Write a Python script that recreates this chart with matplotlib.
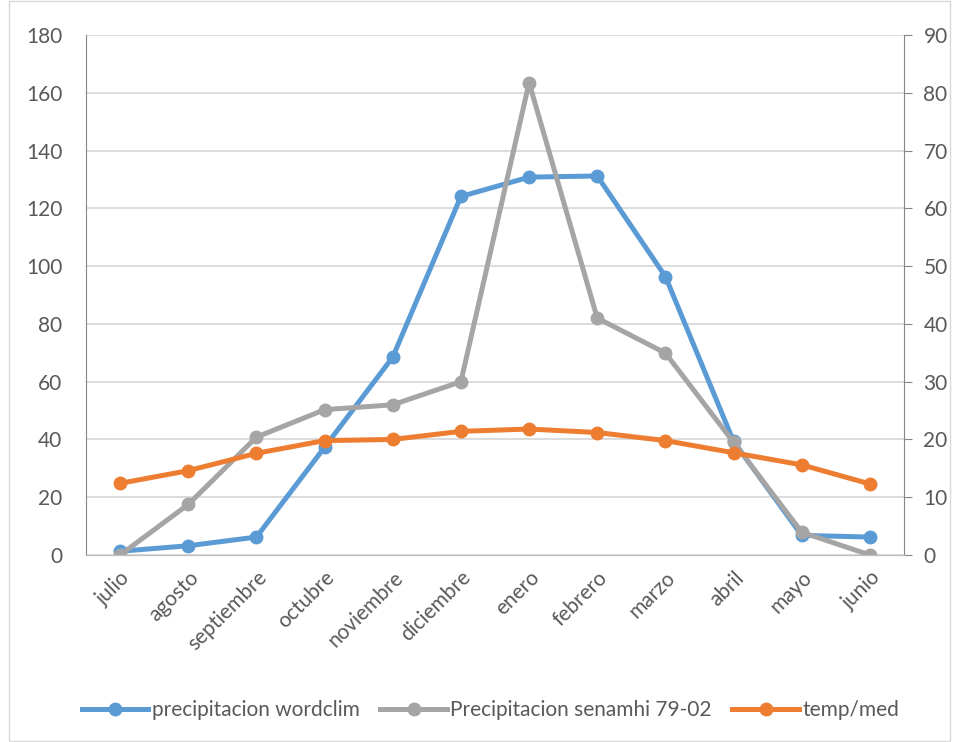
import matplotlib.pyplot as plt
from matplotlib.patches import Rectangle

# months (hydrological year, julio -> junio)
meses = ['julio', 'agosto', 'septiembre', 'octubre', 'noviembre', 'diciembre',
         'enero', 'febrero', 'marzo', 'abril', 'mayo', 'junio']
prec_wordclim = [1.3, 3.2, 6.2, 37.3, 68.5, 124.1, 130.8, 131.2, 96.4, 39.3, 6.8, 6.2]
prec_senamhi = [0, 17.5, 40.8, 50.3, 52.0, 60.0, 163.5, 82.0, 69.9, 39.0, 7.9, 0]
temp_med = [12.4, 14.6, 17.6, 19.8, 20.0, 21.4, 21.8, 21.2, 19.8, 17.7, 15.6, 12.3]

left_ticks = list(range(0, 181, 20))
right_ticks = list(range(0, 91, 10))

plt.rcParams['font.family'] = ['Lato', 'DejaVu Sans']
txt = '#595959'
fs = 15

fig = plt.figure(figsize=(9.54, 7.42), dpi=100)
ax = fig.add_axes([86/954, 1-555/742, (904-86)/954, (555-35)/742])
ax2 = ax.twinx()

x = list(range(len(meses)))
ax.plot(x, prec_wordclim, color='#5B9BD5', lw=3.6, marker='o', ms=9,
        label='precipitacion wordclim', zorder=3)
ax.plot(x, prec_senamhi, color='#A5A5A5', lw=3.6, marker='o', ms=9,
        label='Precipitacion senamhi 79-02', zorder=4)
ax2.plot(x, temp_med, color='#ED7D31', lw=3.6, marker='o', ms=9,
         label='temp/med', zorder=5)

ax.set_xlim(-0.5, len(meses) - 0.5)
ax.set_ylim(0, 180)
ax2.set_ylim(0, 90)
ax.set_yticks(left_ticks)
ax2.set_yticks(right_ticks)
ax.grid(axis='y', color='#d9d9d9', lw=1.3)
ax.set_axisbelow(True)

ax.set_xticks(x)
ax.set_xticklabels(meses, rotation=45, ha='right', rotation_mode='anchor',
                   fontsize=fs, color=txt)
ax.tick_params(axis='x', length=0, pad=9)
ax.tick_params(axis='y', length=0, labelsize=fs, labelcolor=txt, pad=17)
ax2.tick_params(axis='y', length=6, color='#868686', labelsize=fs,
                labelcolor=txt, pad=8)

for a in (ax, ax2):
    a.spines['top'].set_visible(False)
    a.spines['left'].set_color('#868686')
    a.spines['right'].set_color('#868686')
    a.spines['bottom'].set_color('#bfbfbf')
ax.spines['right'].set_visible(False)
ax2.spines['left'].set_visible(False)

h1, l1 = ax.get_legend_handles_labels()
h2, l2 = ax2.get_legend_handles_labels()
fig.legend(h1 + h2, l1 + l2, loc='center', bbox_to_anchor=(0.514, 1-710/742),
           ncol=3, frameon=False, fontsize=fs, labelcolor=txt,
           handlelength=3.2, handletextpad=0.15, columnspacing=1.0)

fig.patches.append(Rectangle((9/954, 0.002), 941/954, 0.996, transform=fig.transFigure,
                             fill=False, ec='#d9d9d9', lw=1))

fig.savefig('out.png', dpi=100)
